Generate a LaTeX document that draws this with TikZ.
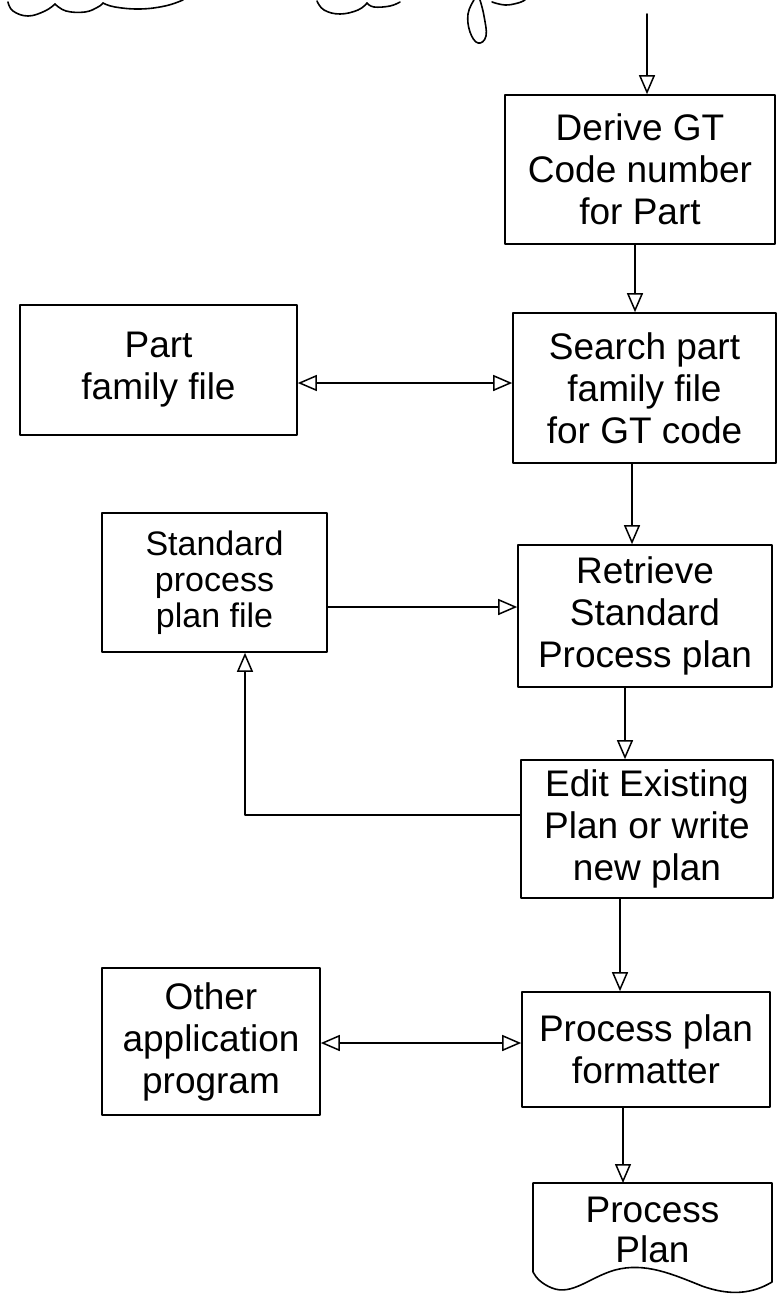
\documentclass[tikz,border=0pt]{standalone}
\usepackage{fontspec}
\setmainfont{Liberation Sans}
\usetikzlibrary{arrows.meta,calc}

\begin{document}
\begin{tikzpicture}[x=1pt,y=-1pt,
  line width=1.6pt, line cap=round, line join=round,
  box/.style={draw, rectangle, inner sep=0pt, align=center,
    font=\fontsize{37}{42}\selectfont},
  smallbox/.style={box, font=\fontsize{34}{36}\selectfont},
  flow/.style={-{Triangle[open,length=19pt,width=16pt,line width=1.5pt]}},
  dbl/.style={{Triangle[open,length=19pt,width=16pt,line width=1.5pt]}-{Triangle[open,length=19pt,width=16pt,line width=1.5pt]}},
  scrap/.style={line width=1.6pt}
]
\useasboundingbox (0,0) rectangle (779,1295);

% strokes left over at the top edge of the sheet
\draw[scrap] plot[smooth, tension=0.7] coordinates {(8,2) (13,11) (28,16) (45,11) (55,4)};
\draw[scrap] plot[smooth, tension=0.7] coordinates {(55,4) (66,11) (85,12) (98,7) (103,3)};
\draw[scrap] plot[smooth, tension=0.7] coordinates {(103,3) (115,7) (140,9) (165,6) (183,0)};
\draw[scrap] plot[smooth, tension=0.7] coordinates {(317,1) (324,10) (340,14) (358,10) (367,3)};
\draw[scrap] plot[smooth, tension=0.7] coordinates {(367,3) (374,7) (390,6) (400,2)};
\draw[scrap] plot[smooth, tension=0.7] coordinates {(474,0) (468,14) (470,32) (478,43) (486,36) (484,16) (480,0)};
\draw[scrap] plot[smooth, tension=0.7] coordinates {(492,2) (505,5) (518,3) (525,0)};

% process steps
\node[box, minimum width=270, minimum height=149] (derive) at (640,169.5)
  {Derive GT\\Code number\\for Part};
\node[box, minimum width=263, minimum height=150] (search) at (644.5,388)
  {Search part\\family file\\for GT code};
\node[box, minimum width=277, minimum height=130] (part) at (158.5,370)
  {Part\\family file};
\node[smallbox, minimum width=225, minimum height=139] (std) at (214.5,582.5)
  {Standard\\process\\plan file};
\node[box, minimum width=254, minimum height=142] (retrieve) at (645,616)
  {Retrieve\\Standard\\Process plan};
\node[box, minimum width=252, minimum height=138] (edit) at (647,829)
  {Edit Existing\\Plan or write\\new plan};
\node[box, minimum width=248, minimum height=115] (fmt) at (646,1049.5)
  {Process plan\\formatter};
\node[box, minimum width=218, minimum height=147] (other) at (211,1041.5)
  {Other\\application\\program};

% output document with wavy lower edge
\node[inner sep=0pt, minimum width=239, minimum height=100, align=center,
  font=\fontsize{37}{40}\selectfont] (doc) at (652.5,1230) {Process\\Plan};
\draw (533,1272) -- (533,1183) -- (772,1183) -- (772,1282)
  .. controls (752,1294) and (730,1296) .. (702,1286)
  .. controls (672,1274) and (645,1262) .. (615,1270)
  .. controls (590,1277) and (572,1296) .. (552,1288)
  .. controls (542,1284) and (536,1278) .. (533,1272);

% connector guide points
\coordinate (in)  at (647,14);
\coordinate (c1)  at (635,0);
\coordinate (c2)  at (632,0);
\coordinate (c3)  at (625,0);
\coordinate (c4)  at (620,0);
\coordinate (c5)  at (623,0);
\coordinate (d1)  at (0,383);
\coordinate (d2)  at (0,607);
\coordinate (d3)  at (0,1043);
\coordinate (fb)  at (245,815);
\coordinate (dt)  at (0,1183);

% connectors
\draw[flow] (in) -- (derive.north -| in);
\draw[flow] (derive.south -| c1) -- (search.north -| c1);
\draw[dbl]  (part.east |- d1) -- (search.west |- d1);
\draw[flow] (search.south -| c2) -- (retrieve.north -| c2);
\draw[flow] (std.east |- d2) -- (retrieve.west |- d2);
\draw[flow] (retrieve.south -| c3) -- (edit.north -| c3);
\draw[flow] (edit.west |- fb) -- (fb) -- (std.south -| fb);
\draw[flow] (edit.south -| c4) -- (fmt.north -| c4);
\draw[dbl]  (other.east |- d3) -- (fmt.west |- d3);
\draw[flow] (fmt.south -| c5) -- (c5 |- dt);
\end{tikzpicture}
\end{document}
